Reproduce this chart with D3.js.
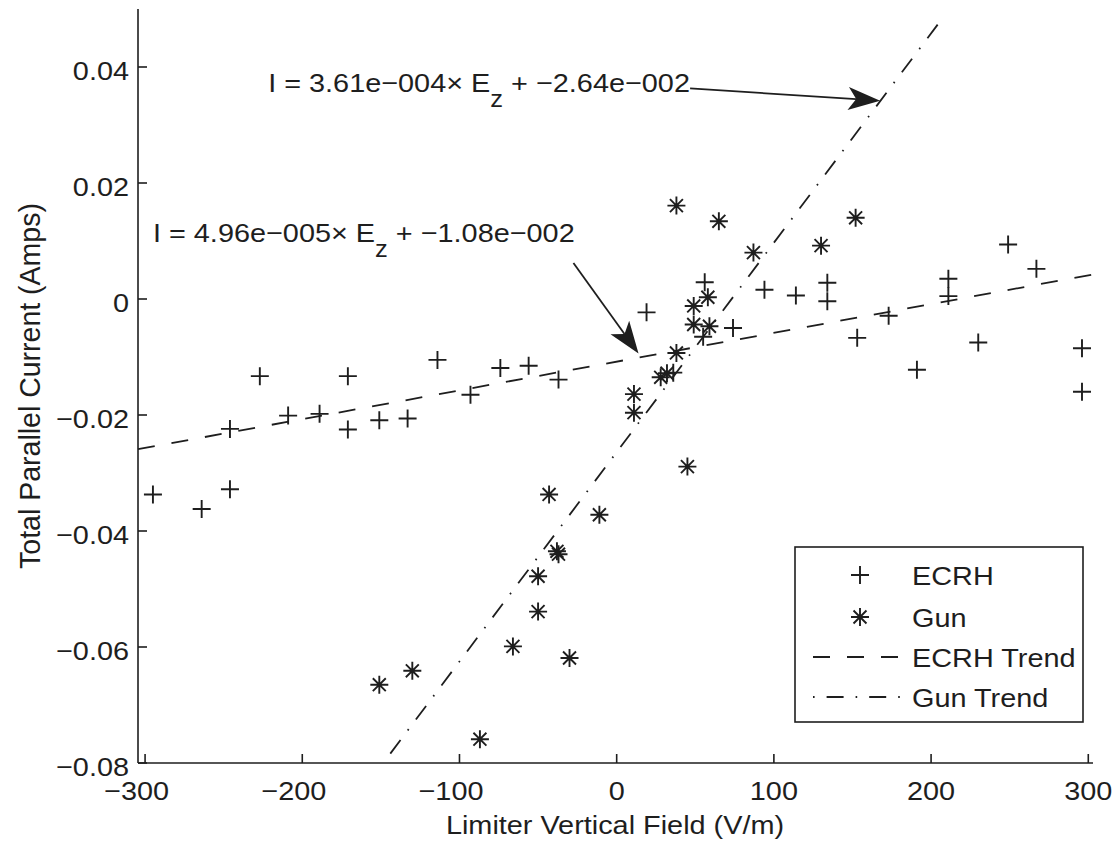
<!DOCTYPE html>
<html>
<head>
<meta charset="utf-8">
<script src="https://cdn.jsdelivr.net/npm/d3@7"></script>
<style>
  html, body { margin: 0; padding: 0; background: #fff; }
  svg text { font-family: "Liberation Sans", Arial, Helvetica, sans-serif; fill: #1e1e1e; }
</style>
</head>
<body>
<svg id="chart" width="1117" height="845"></svg>
<script>
// ---- data ----
const ecrhX = [-295, -264, -246, -246, -227, -209, -189, -171, -171, -151, -133, -114,
  -93, -74, -56, -37, 19, 36, 55, 56, 74, 94, 114, 134, 134, 153, 173, 191, 211, 211,
  230, 249, 267, 296, 296];
const ecrhY = [-0.0337, -0.0362, -0.0328, -0.0224, -0.0133, -0.0201, -0.0198, -0.0133,
  -0.0225, -0.0209, -0.0206, -0.0105, -0.0165, -0.0119, -0.0115, -0.0139, -0.0023,
  -0.0127, -0.0065, 0.0029, -0.0050, 0.0016, 0.0006, 0.0028, -0.0004, -0.0067, -0.0029,
  -0.0122, 0.0035, 0.0005, -0.0075, 0.0094, 0.0052, -0.0085, -0.0160];

const gunX = [38, 65, 87, 130, 152, 58, 49, 49, 59, 38, 28, 32, 11, 11, 45, -43, -11,
  -38, -37, -50, -50, -66, -30, -130, -151, -87];
const gunY = [0.0161, 0.0134, 0.0080, 0.0092, 0.0140, 0.0003, -0.0012, -0.0044, -0.0047,
  -0.0093, -0.0135, -0.0128, -0.0164, -0.0196, -0.0289, -0.0337, -0.0372, -0.0435,
  -0.0440, -0.0478, -0.0539, -0.0599, -0.0619, -0.0641, -0.0665, -0.0759];

// fit coefficients (as printed in the figure)
const ecrhFit = { slope: 4.96e-5, icpt: -1.08e-2, x0: -304.5, x1: 303 };
const gunFit = { slope: 3.61e-4, icpt: -2.64e-2, x0: -144, x1: 207 };

const xTicks = [-300, -200, -100, 0, 100, 200, 300];
const yTicks = [-0.08, -0.06, -0.04, -0.02, 0, 0.02, 0.04];

const legendItems = ["ECRH", "Gun", "ECRH Trend", "Gun Trend"];

// annotation: text anchor (data coords) and arrow from -> to (data coords)
const notes = [
  { main: "I = 3.61e\u2212004\u00d7 E", sub: "z", tail: " + \u22122.64e\u2212002",
    tx: -221.7, ty: 0.0357, ax0: 46.7, ay0: 0.0363, ax1: 167.6, ay1: 0.0342 },
  { main: "I = 4.96e\u2212005\u00d7 E", sub: "z", tail: " + \u22121.08e\u2212002",
    tx: -295, ty: 0.0098, ax0: -27.5, ay0: 0.0062, ax1: 13.9, ay1: -0.0094 }
];

// ---- layout ----
const INK = "#1e1e1e";
const FS = 26, SX = 1.11;   // text looks horizontally stretched in the scan

const svg = d3.select("#chart");
const x = d3.scaleLinear().domain([-304.5, 303]).range([138, 1093]);
const y = d3.scaleLinear().domain([-0.08, 0.05]).range([763, 9]);

function stext(g, px, py, str, anchor, size) {
  return g.append("text")
    .attr("transform", `translate(${px},${py}) scale(${SX},1)`)
    .attr("text-anchor", anchor || "start")
    .style("font-size", (size || FS) + "px")
    .text(str);
}

// axes (left + bottom only, ticks pointing inward)
svg.append("line")
  .attr("x1", x.range()[0]).attr("x2", x.range()[0])
  .attr("y1", y.range()[0]).attr("y2", y.range()[1])
  .attr("stroke", INK).attr("stroke-width", 1.6);
svg.append("line")
  .attr("x1", x.range()[0]).attr("x2", x.range()[1])
  .attr("y1", y.range()[0]).attr("y2", y.range()[0])
  .attr("stroke", INK).attr("stroke-width", 1.6);

xTicks.forEach(t => {
  svg.append("line")
    .attr("x1", x(t)).attr("x2", x(t))
    .attr("y1", y(-0.08)).attr("y2", y(-0.08) - 9)
    .attr("stroke", INK).attr("stroke-width", 1.6);
  const lab = t < 0 ? "\u2212" + Math.abs(t) : String(t);
  stext(svg, x(t) - (t < 0 ? 8.5 : 0), 800, lab, "middle");
});

yTicks.forEach(t => {
  svg.append("line")
    .attr("x1", x.range()[0]).attr("x2", x.range()[0] + 9)
    .attr("y1", y(t)).attr("y2", y(t))
    .attr("stroke", INK).attr("stroke-width", 1.6);
  const v = Math.abs(t) < 1e-9 ? "0" : d3.format(".2f")(Math.abs(t));
  const lab = t < -1e-9 ? "\u2212" + v : v;
  stext(svg, 129, y(t) + 12.5, lab, "end");
});

// axis titles
stext(svg, 615, 834, "Limiter Vertical Field (V/m)", "middle");
svg.append("text")
  .attr("transform", `translate(40,386) rotate(-90) scale(1,1.06)`)
  .attr("text-anchor", "middle")
  .style("font-size", "28.5px")
  .text("Total Parallel Current (Amps)");

// trend lines
const line = d3.line().x(d => x(d[0])).y(d => y(d[1]));
function fitPts(f) {
  return [[f.x0, f.slope * f.x0 + f.icpt], [f.x1, f.slope * f.x1 + f.icpt]];
}
const DASH = "17,17";
const DASHDOT = "17,12,1.6,12";
svg.append("path").attr("d", line(fitPts(ecrhFit)))
  .attr("fill", "none").attr("stroke", INK).attr("stroke-width", 1.8)
  .attr("stroke-dasharray", DASH);
svg.append("path").attr("d", line(fitPts(gunFit)))
  .attr("fill", "none").attr("stroke", INK).attr("stroke-width", 1.8)
  .attr("stroke-dasharray", DASHDOT);

// markers
const R = 9;
function plus(g, cx, cy) {
  g.append("path")
    .attr("d", `M${cx - R},${cy}H${cx + R}M${cx},${cy - R}V${cy + R}`)
    .attr("stroke", INK).attr("stroke-width", 1.9).attr("fill", "none");
}
function star(g, cx, cy) {
  const d = R * 0.72;
  g.append("path")
    .attr("d", `M${cx - R},${cy}H${cx + R}M${cx},${cy - R}V${cy + R}` +
      `M${cx - d},${cy - d}L${cx + d},${cy + d}M${cx - d},${cy + d}L${cx + d},${cy - d}`)
    .attr("stroke", INK).attr("stroke-width", 1.9).attr("fill", "none");
}
const marks = svg.append("g");
ecrhX.forEach((v, i) => plus(marks, x(v), y(ecrhY[i])));
gunX.forEach((v, i) => star(marks, x(v), y(gunY[i])));

// annotations with arrows
notes.forEach(n => {
  const px = x(n.tx), py = y(n.ty);
  const t = svg.append("text")
    .attr("transform", `translate(${px},${py}) scale(${SX},1)`)
    .style("font-size", FS + "px");
  t.append("tspan").text(n.main);
  t.append("tspan").attr("dy", 15).style("font-size", "23px").text(n.sub);
  t.append("tspan").attr("dy", -15).text(n.tail);

  const x0 = x(n.ax0), y0 = y(n.ay0), x1 = x(n.ax1), y1 = y(n.ay1);
  const ang = Math.atan2(y1 - y0, x1 - x0);
  const L = 32, W = 11.5, back = 24;
  const ux = Math.cos(ang), uy = Math.sin(ang);
  const bx = x1 - ux * L, by = y1 - uy * L;
  const nx = -uy, ny = ux;
  svg.append("line")
    .attr("x1", x0).attr("y1", y0)
    .attr("x2", x1 - ux * back).attr("y2", y1 - uy * back)
    .attr("stroke", INK).attr("stroke-width", 1.8);
  const notchX = x1 - ux * back, notchY = y1 - uy * back;
  svg.append("path")
    .attr("d", `M${x1},${y1}L${bx + nx * W},${by + ny * W}L${notchX},${notchY}L${bx - nx * W},${by - ny * W}Z`)
    .attr("fill", INK);
});

// legend
const lg = svg.append("g");
lg.append("rect")
  .attr("x", 795).attr("y", 547).attr("width", 288).attr("height", 175)
  .attr("fill", "#fff").attr("stroke", INK).attr("stroke-width", 1.6);
const rowY = [575, 617, 657, 697];
legendItems.forEach((name, i) => {
  const ry = rowY[i];
  if (i === 0) plus(lg, 860, ry);
  if (i === 1) star(lg, 860, ry);
  if (i >= 2) {
    lg.append("line").attr("x1", 813).attr("x2", 910).attr("y1", ry).attr("y2", ry)
      .attr("stroke", INK).attr("stroke-width", 1.8)
      .attr("stroke-dasharray", i === 2 ? "17,17" : "1.6,12,17,12");
  }
  stext(lg, 912, ry + 9.5, name, "start");
});
</script>
</body>
</html>
